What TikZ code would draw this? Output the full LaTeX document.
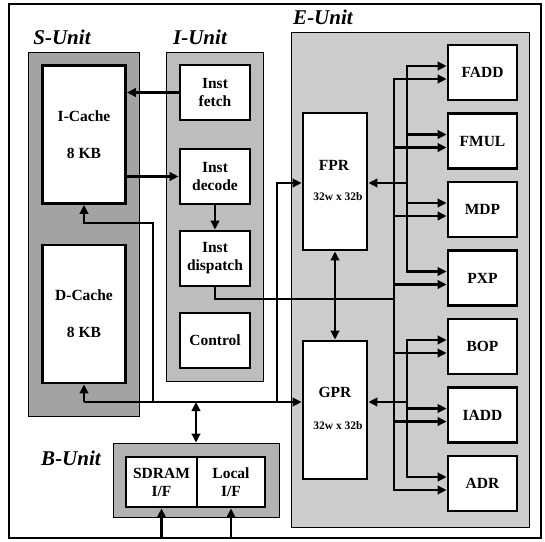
\documentclass[tikz,border=0pt]{standalone}
\usepackage{fontspec}
\setmainfont{Liberation Serif}
\usetikzlibrary{arrows.meta,calc}
\definecolor{sgray}{gray}{0.64}
\definecolor{igray}{gray}{0.74}
\definecolor{egray}{gray}{0.80}
\definecolor{bgray}{gray}{0.70}
\begin{document}
\begin{tikzpicture}[x=1pt,y=-1pt,
  unitbox/.style={draw=black,line width=0.8pt,inner sep=0pt},
  blk/.style={draw=black,line width=2.8pt,fill=white,inner sep=0pt,align=center,
    font=\bfseries\fontsize{15.5}{18}\selectfont},
  funcbox/.style={blk,minimum width=69pt,minimum height=55pt},
  instbox/.style={blk,minimum width=70pt,minimum height=55pt},
  ulabel/.style={font=\bfseries\itshape\fontsize{21}{24}\selectfont,inner sep=0pt},
  small/.style={font=\bfseries\fontsize{11.5}{13}\selectfont,inner sep=0pt},
  wire/.style={line width=2.5pt},
  vwire/.style={line width=2.5pt,line cap=rect},
  arrowend/.style={-{Triangle[length=9pt,width=8.5pt]}},
  arrowboth/.style={{Triangle[length=9pt,width=8.5pt]}-{Triangle[length=9pt,width=8.5pt]}}
]
\useasboundingbox (0,0) rectangle (545,541);

% outer frame
\node[draw=black,line width=1.5pt,minimum width=532pt,minimum height=534pt,inner sep=0pt] (frame) at (275,271) {};

% unit areas
\node[unitbox,fill=sgray,minimum width=111pt,minimum height=364pt] (sunit) at (83.5,234) {};
\node[unitbox,fill=igray,minimum width=97pt,minimum height=329pt] (iunit) at (214.5,216.5) {};
\node[unitbox,fill=egray,minimum width=238pt,minimum height=495pt] (eunit) at (410,279.5) {};
\node[unitbox,fill=bgray,minimum width=166pt,minimum height=74pt] (bunit) at (196,480) {};

% unit labels
\node[ulabel] (slab) at (62,37) {S-Unit};
\node[ulabel] (ilab) at (200,37) {I-Unit};
\node[ulabel] (elab) at (323,17) {E-Unit};
\node[ulabel] (blab) at (71,458) {B-Unit};

% S-Unit
\node[blk,minimum width=83pt,minimum height=138pt] (icache) at (84,134.5) {I-Cache\\[19pt]8 KB};
\node[blk,minimum width=83pt,minimum height=138pt] (dcache) at (84,314) {D-Cache\\[19pt]8 KB};

% I-Unit
\node[instbox] (fetch) at (215,92.5) {Inst\\fetch};
\node[instbox] (decode) at (215,176.5) {Inst\\decode};
\node[instbox] (dispatch) at (215,258.5) {Inst\\dispatch};
\node[instbox] (control) at (215,340.5) {Control};

% E-Unit registers
\node[blk,minimum width=64pt,minimum height=137pt] (fpr) at (335,181.5) {};
\node[blk,draw=none,fill=none] (fprt) at (334,165) {FPR};
\node[small] (fprs) at (338,197) {32w x 32b};
\node[blk,minimum width=64pt,minimum height=138pt] (gpr) at (335,410) {};
\node[blk,draw=none,fill=none] (gprt) at (335,392) {GPR};
\node[small] (gprs) at (338,426) {32w x 32b};

% function units
\node[funcbox] (fadd) at (482.5,72.5) {FADD};
\node[funcbox] (fmul) at (482.5,141) {FMUL};
\node[funcbox] (mdp)  at (482.5,209.5) {MDP};
\node[funcbox] (pxp)  at (482.5,278) {PXP};
\node[funcbox] (bop)  at (482.5,346.5) {BOP};
\node[funcbox] (iadd) at (482.5,415) {IADD};
\node[funcbox] (adr)  at (482.5,483.5) {ADR};

% B-Unit
\node[blk,minimum width=71pt,minimum height=50pt] (sdram) at (161.5,482) {SDRAM\\I/F};
\node[blk,minimum width=68pt,minimum height=50pt] (local) at (231,482) {Local\\I/F};

% helper coordinates
\coordinate (bus) at (153,402);
\coordinate (stop) at (153,223);
\coordinate (fprfeed) at (277,402);
\coordinate (bdown) at (196,402);
\coordinate (dj) at (394,299);
\coordinate (ux) at (407,0);
\coordinate (vx) at (394,0);
\path ($(fpr.east)+(0,1.5)$) coordinate (fprr);
\path ($(gpr.east)+(0,-8)$) coordinate (gprr);
\path ($(fpr.west)+(0,1.5)$) coordinate (fprl);
\foreach \f in {fadd,fmul,mdp,pxp,bop,iadd,adr}{
  \path ($(\f.west)+(0,-6.5)$) coordinate (\f-a);
  \path ($(\f.west)+(0,6.5)$) coordinate (\f-b);
}

% I-Unit / S-Unit connections
\draw[wire,arrowend] (fetch.west) -- (fetch.west -| icache.east);
\draw[wire,arrowend] (icache.east |- decode.west) -- (decode.west);
\draw[wire,arrowend] (decode.south) -- (dispatch.north);
\draw[wire,arrowend] (bus) -- (stop) -- (stop -| icache.south) -- (icache.south);
\draw[wire,arrowend] (dcache.south |- bus) -- (dcache.south);
\draw[wire,arrowend] (dcache.south |- bus) -- (gpr.west |- bus);
\draw[wire,arrowend] (fprfeed) |- (fprl);
\draw[wire,arrowboth] (bdown) -- (bunit.north);
\draw[wire] (dispatch.south) |- (dj);

% register connections
\draw[wire,arrowboth] (fpr.south) -- (gpr.north);
\draw[wire,arrowend] (fprr -| ux) -- (fprr);
\draw[wire,arrowend] (gprr -| ux) -- (gprr);

% buses
\draw[vwire] (fadd-a -| ux) -- (pxp-a -| ux);
\draw[vwire] (bop-a -| ux) -- (adr-a -| ux);
\draw[vwire] (fadd-b -| vx) -- (adr-b -| vx);
\foreach \f in {fadd,fmul,mdp,pxp,bop,iadd,adr}{
  \draw[wire,arrowend] (\f-a -| ux) -- (\f-a);
  \draw[wire,arrowend] (\f-b -| vx) -- (\f-b);
}

% external inputs
\draw[wire,arrowend] (sdram.south |- frame.south) -- (sdram.south);
\draw[wire,arrowend] (local.south |- frame.south) -- (local.south);
\end{tikzpicture}
\end{document}
